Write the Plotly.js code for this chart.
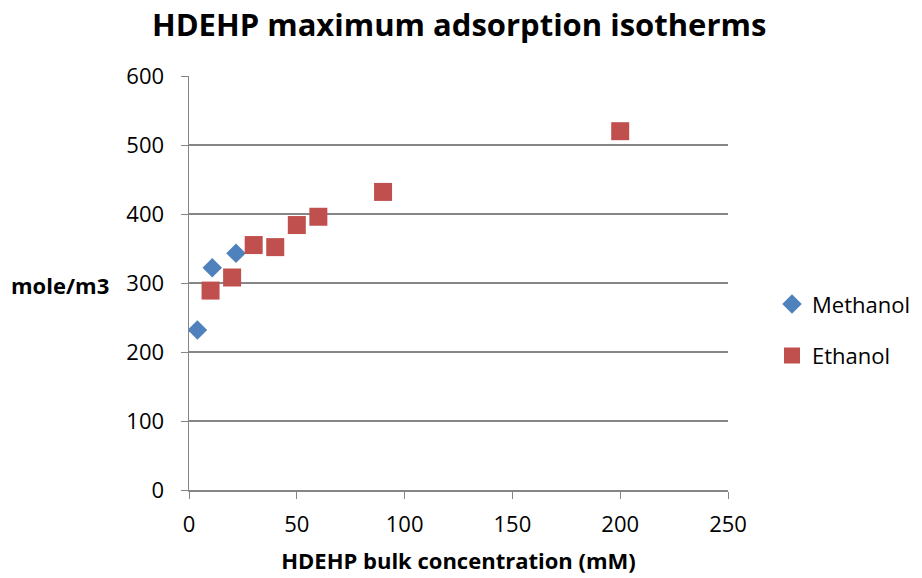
<!DOCTYPE html>
<html><head><meta charset="utf-8">
<script src="https://cdn.plot.ly/plotly-3.0.1.min.js"></script>
<style>html,body{margin:0;padding:0;background:#fff;}#chart{width:922px;height:578px;}</style>
</head><body><div id="chart"></div>
<script>
const methanolX = [3.9, 10.8, 21.8];
const methanolY = [232, 322, 343];
const ethanolX = [10, 20, 30, 40, 50, 60, 90, 200];
const ethanolY = [289, 308, 355, 352, 384, 396, 432, 520];
const xTicks = [0, 50, 100, 150, 200, 250];
const yTicks = [0, 100, 200, 300, 400, 500, 600];

const font = "Open Sans, Liberation Sans, sans-serif";
const traces = [
  {x: methanolX, y: methanolY, mode: 'markers', type: 'scatter', name: 'Methanol', legendgroup: 'a',
   marker: {symbol: 'diamond', size: 15, color: '#4F81BD'}},
  {x: ethanolX, y: ethanolY, mode: 'markers', type: 'scatter', name: 'Ethanol', legendgroup: 'b',
   marker: {symbol: 'square', size: 18, color: '#C0504D'}}
];
// paper: left margin 189, right margin 0 -> paper width 733; plot area 189..728
const layout = {
  width: 922, height: 578,
  margin: {l: 189, r: 0, t: 76, b: 88, pad: 0},
  paper_bgcolor: '#fff', plot_bgcolor: '#fff',
  title: {text: '<b>HDEHP maximum adsorption isotherms</b>', xref: 'container', x: 0.498, xanchor: 'center', y: 0.957, yanchor: 'middle',
          font: {family: font, size: 31, color: '#000'}},
  xaxis: {domain: [0, 539/733], range: [0, 250], tickvals: xTicks, ticktext: xTicks.map(String), showgrid: false, zeroline: false,
          showline: true, linecolor: '#868686', linewidth: 1.5, ticks: 'outside', ticklen: 7, tickcolor: '#868686',
          ticklabelstandoff: 7,
          tickfont: {family: font, size: 22, color: '#000'},
          title: {text: '<b>HDEHP bulk concentration (mM)</b>', font: {family: font, size: 22, color: '#000'}, standoff: 16}},
  yaxis: {range: [0, 600], tickvals: yTicks, ticktext: yTicks.map(String), showgrid: true, gridcolor: '#868686', gridwidth: 1.3,
          zeroline: false, showline: true, linecolor: '#868686', linewidth: 1.5, ticks: 'outside', ticklen: 7, tickcolor: '#868686',
          ticklabelstandoff: 12,
          tickfont: {family: font, size: 22, color: '#000'}},
  annotations: [{text: '<b>mole/m3</b>', xref: 'paper', yref: 'paper', x: -129/733, y: 0.495, xanchor: 'center', yanchor: 'middle',
                 showarrow: false, font: {family: font, size: 22, color: '#000'}}],
  legend: {x: 583/733, xanchor: 'left', y: 0.386, yanchor: 'middle', font: {family: font, size: 22, color: '#000'},
           tracegroupgap: 20, itemwidth: 30, bgcolor: 'rgba(0,0,0,0)'},
  showlegend: true
};
Plotly.newPlot('chart', traces, layout, {displayModeBar: false, staticPlot: true});
</script></body></html>
